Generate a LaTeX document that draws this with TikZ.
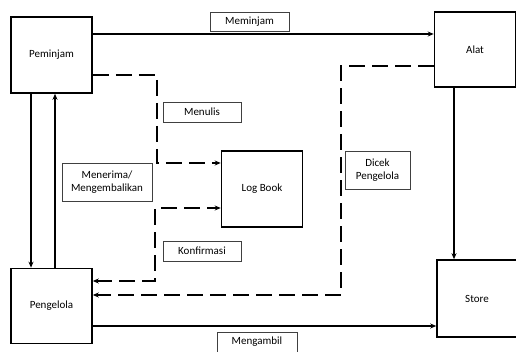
\documentclass[tikz,border=0pt]{standalone}
\usepackage{fontspec}
\setmainfont{Carlito}
\usetikzlibrary{arrows.meta}
\tikzset{
    entity/.style={draw, line width=1.6pt, minimum width=81pt, minimum height=76pt, inner sep=0pt},
    tag/.style={draw=black!75, line width=0.6pt, inner sep=0pt, align=center},
    flow/.style={line width=1.4pt, -{Stealth[length=6pt,width=5pt]}},
    dflow/.style={flow, dash pattern=on 16pt off 7pt},
}
\begin{document}
\begin{tikzpicture}[x=1pt, y=-1pt, font=\fontsize{11}{13}\selectfont]
    \pgfmathsetmacro\downx{31}
    \pgfmathsetmacro\upx{55}
    \clip (0,0) rectangle (516,352);

    \node[entity] (pem) at (51.5,55) {Peminjam};
    \node[entity, minimum height=75pt] (alat) at (475,49.5) {Alat};
    \node[entity] (logbook) at (262,189) {Log Book};
    \node[entity, minimum height=75pt] (pen) at (51.5,306) {Pengelola};
    \node[entity, minimum width=80pt, minimum height=77pt] (store) at (477,298.5) {Store};

    \node[tag, minimum width=79pt, minimum height=19pt] (lmeminjam) at (249.5,21.5) {Meminjam};
    \node[tag, minimum width=78pt, minimum height=20pt] (lmenulis) at (202,112) {Menulis};
    \node[tag, minimum width=90pt, minimum height=38pt] (lmenerima) at (107,182) {Menerima/\\Mengembalikan};
    \node[tag, minimum width=78pt, minimum height=20pt] (lkonfirmasi) at (202,251) {Konfirmasi};
    \node[tag, minimum width=65pt, minimum height=38pt] (ldicek) at (377.5,170) {Dicek\\Pengelola};
    \node[tag, minimum width=80pt, minimum height=20pt] (lmengambil) at (257,342) {Mengambil};

    \draw[flow] (pem.east |- 0,34) -- (alat.west |- 0,34);
    \draw[dflow] (pem.east |- 0,75) -- (157,75) -- (157,163) -- (logbook.west |- 0,163);
    \draw[flow] (pem.south -| \downx,0) -- (pen.north -| \downx,0);
    \draw[flow] (pen.north -| \upx,0) -- (pem.south -| \upx,0);
    \draw[dflow, {Stealth[length=6pt,width=5pt]}-{Stealth[length=6pt,width=5pt]}]
        (pen.east |- 0,281) -- (155,281) -- (155,208) -- (logbook.west |- 0,208);
    \draw[dflow] (alat.west |- 0,66) -- (341,66) -- (341,295) -- (pen.east |- 0,295);
    \draw[flow] (alat.south -| 454,0) -- (store.north -| 454,0);
    \draw[flow] (pen.east |- 0,326) -- (store.west |- 0,326);
\end{tikzpicture}
\end{document}
